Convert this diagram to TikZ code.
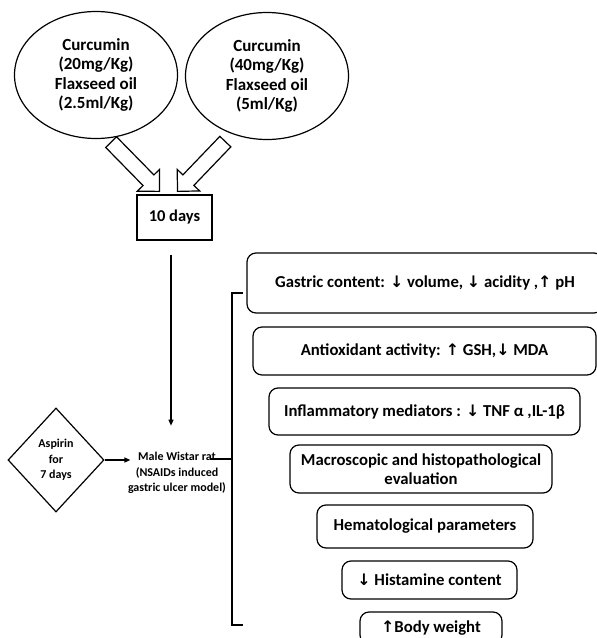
\documentclass[tikz,border=0pt]{standalone}
\usepackage{fontspec}
\setmainfont{Carlito}
\newfontfamily\arw[Scale=0.95]{DejaVu Sans}
\usepackage{tikz}
\usetikzlibrary{shapes.geometric, shapes.arrows, arrows.meta, positioning}

\begin{document}
\begin{tikzpicture}[x=1pt, y=-1pt, line width=1.2pt,
  dose/.style={draw, ellipse, minimum width=163pt, minimum height=127pt, inner sep=0pt, align=center, font=\fontsize{17}{19.5}\selectfont\bfseries},
  result/.style={draw, rounded corners=9pt, inner sep=0pt, align=center, font=\fontsize{16.7}{19.5}\selectfont\bfseries},
  blockarrow/.style={draw, single arrow, single arrow head extend=8pt, single arrow tip angle=90, inner xsep=0pt, inner ysep=7pt, minimum height=69pt, sloped, allow upside down, anchor=tip, pos=1},
  small/.style={inner sep=0pt, align=center, font=\fontsize{12}{15.5}\selectfont\bfseries}]
\useasboundingbox (0,0) rectangle (597,638);

% doses
\node[dose] (cur20) at (96,75) {Curcumin\\(20mg/Kg)\\Flaxseed oil\\(2.5ml/Kg)};
\node[dose] (cur40) at (267,76) {Curcumin\\(40mg/Kg)\\Flaxseed oil\\(5ml/Kg)};
\node[draw, minimum width=75pt, minimum height=45pt, font=\fontsize{16.5}{19}\selectfont\bfseries] (days) at (174.5,217.5) {10 days};

\coordinate (t1) at (111,142);
\coordinate (h1) at (160,192);
\coordinate (t2) at (224,143);
\coordinate (h2) at (177,192);
\path (t1) -- (h1) node[blockarrow] {};
\path (t2) -- (h2) node[blockarrow] {};

% model
\node[draw, diamond, small, minimum width=96pt, minimum height=104pt] (aspirin) at (56,460) {Aspirin\\for\\7 days};
\node[small] (rat) at (177,473) {Male Wistar rat\\(NSAIDs induced\\gastric ulcer model)};
\draw[-{Triangle[length=6pt,width=5pt]}, shorten <=14pt, shorten >=26pt] (days.south -| 171,0) -- (rat.north -| 171,0);
\draw[-{Triangle[length=6pt,width=5pt]}] (aspirin.east) -- ([xshift=3pt]aspirin.east -| rat.west);

% bracket
\coordinate (brk) at (232,459);
\coordinate (btop) at (232,293);
\coordinate (bbot) at (232,625);
\draw ([xshift=-16pt]rat.east |- brk) -- (brk);
\draw ([xshift=11pt]btop) -- (btop) -- (bbot) -- ([xshift=11pt]bbot);

% results
\node[result, minimum width=356pt, minimum height=60pt] (gastric) at (425,283) {Gastric content: {\arw ↓} volume, {\arw ↓} acidity ,{\arw ↑} pH};
\node[result, minimum width=343pt, minimum height=48pt] (antiox) at (424.5,351) {Antioxidant activity: {\arw ↑} GSH,{\arw ↓} MDA};
\node[result, minimum width=311pt, minimum height=47pt] (inflam) at (424.5,411.5) {Inflammatory mediators : {\arw ↓} TNF α ,IL-1β};
\node[result, minimum width=262pt, minimum height=48pt] (macro) at (421,469) {Macroscopic and histopathological\\evaluation};
\node[result, minimum width=216pt, minimum height=43pt] (hema) at (425,526.5) {Hematological parameters};
\node[result, minimum width=175pt, minimum height=38pt] (hist) at (429.5,580) {{\arw ↓} Histamine content};
\node[result, minimum width=142pt, minimum height=32pt] (body) at (431,628) {{\arw ↑}Body weight};
\end{tikzpicture}
\end{document}
